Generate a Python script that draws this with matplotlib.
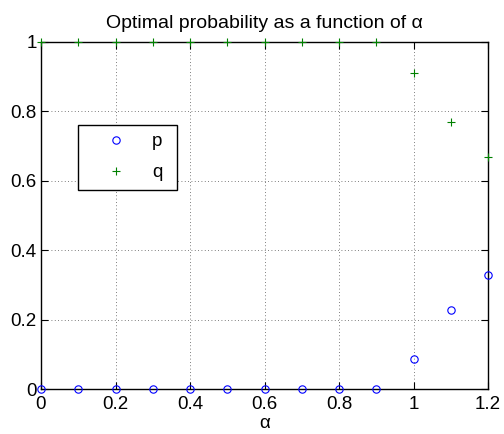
import matplotlib
matplotlib.use("Agg")
import matplotlib.pyplot as plt
from matplotlib.patches import Rectangle

plt.rcParams['font.family'] = ['Liberation Sans', 'DejaVu Sans']

alpha = [0.0, 0.1, 0.2, 0.3, 0.4, 0.5, 0.6, 0.7, 0.8, 0.9, 1.0, 1.1, 1.2]
p_vals = [0, 0, 0, 0, 0, 0, 0, 0, 0, 0, 0.088, 0.229, 0.329]
q_vals = [1, 1, 1, 1, 1, 1, 1, 1, 1, 1, 0.912, 0.770, 0.670]
xticks = [0, 0.2, 0.4, 0.6, 0.8, 1.0, 1.2]
xticklabels = ['0', '0.2', '0.4', '0.6', '0.8', '1', '1.2']
yticks = [0, 0.2, 0.4, 0.6, 0.8, 1.0]
yticklabels = ['0', '0.2', '0.4', '0.6', '0.8', '1']

FS = 13.5

fig = plt.figure(figsize=(5.04, 4.34), dpi=100)
ax = fig.add_axes([41/504, 1 - 389.3/434, 447/504, 347.3/434])

ax.plot(alpha, p_vals, 'o', color='blue', markerfacecolor='none', markersize=5.3,
        markeredgewidth=0.8, label='p', clip_on=False, zorder=3)
ax.plot(alpha, q_vals, '+', color=(0, 0.5, 0), markersize=5.5,
        markeredgewidth=0.8, label='q', clip_on=False, zorder=3)

ax.set_xlim(0, 1.2)
ax.set_ylim(0, 1)
ax.set_xticks(xticks)
ax.set_xticklabels(xticklabels)
ax.set_yticks(yticks)
ax.set_yticklabels(yticklabels)
ax.grid(True, linestyle=(0, (1, 3)), color='#555555', linewidth=0.6)
ax.tick_params(direction='in', length=5, width=0.8, labelsize=FS,
               top=True, right=True, colors='black')
ax.tick_params(axis='x', pad=4.5)
ax.tick_params(axis='y', pad=3)
for s in ax.spines.values():
    s.set_linewidth(1.0)
    s.set_color('black')

ax.set_title('Optimal probability as a function of α', fontsize=14, pad=10)
ax.set_xlabel('α', fontsize=FS, labelpad=2)

# legend box (axes-fraction coordinates)
ax.add_patch(Rectangle((0.083, 0.574), 0.221, 0.188, transform=ax.transAxes,
                       facecolor='white', edgecolor='black', linewidth=1.0,
                       zorder=4))
leg = ax.legend(loc='center', bbox_to_anchor=(0.1935, 0.668), fontsize=FS,
                frameon=False, handlelength=2.5, handletextpad=0.65,
                borderpad=0, labelspacing=0.75, borderaxespad=0)
leg.set_zorder(5)

fig.savefig('out.png', dpi=100)
